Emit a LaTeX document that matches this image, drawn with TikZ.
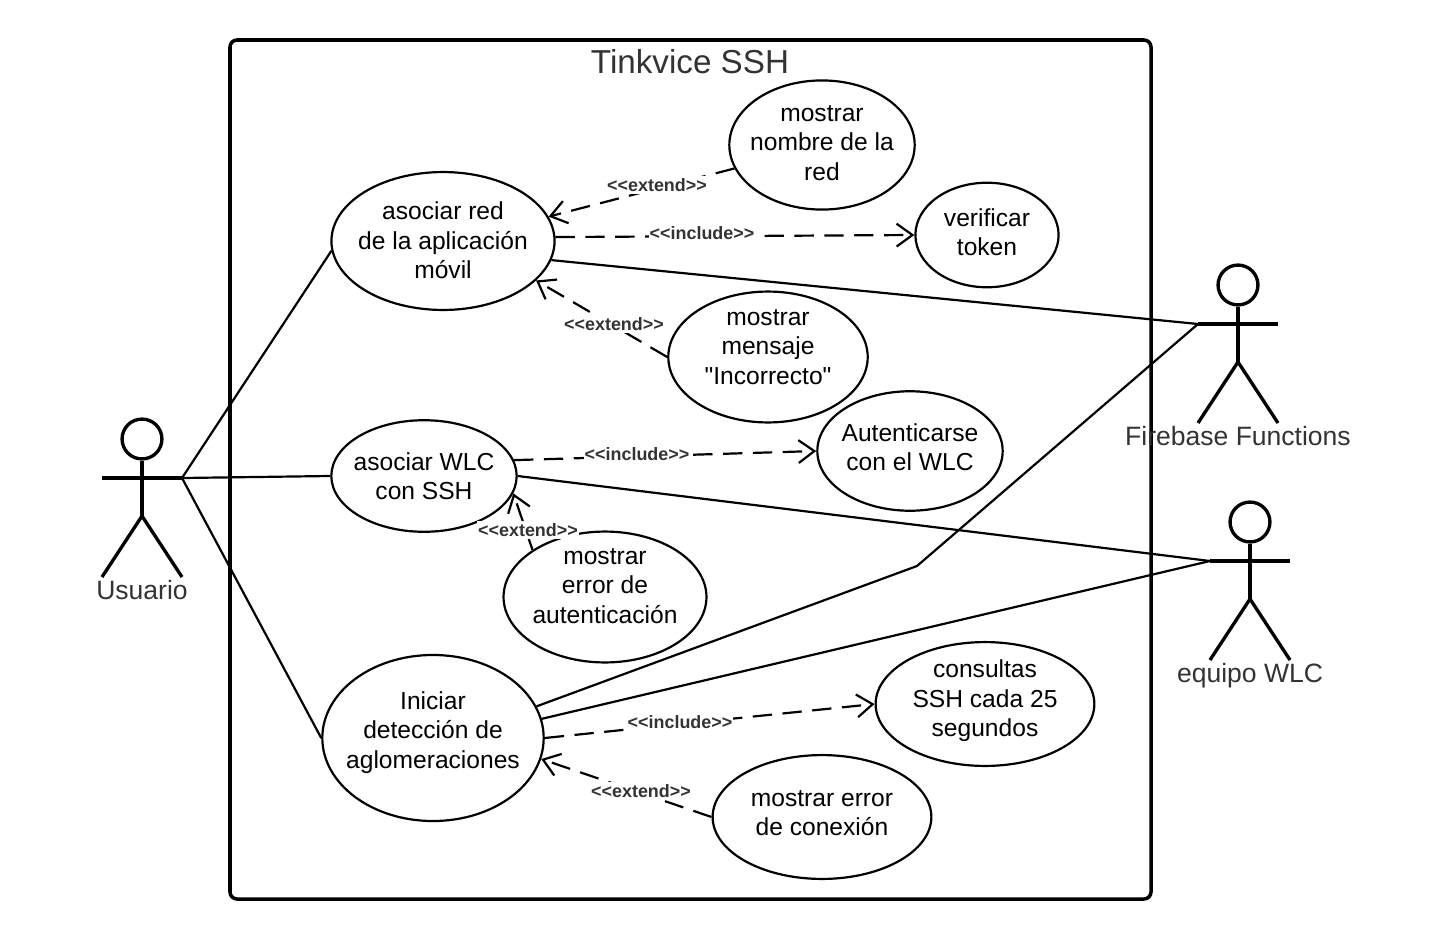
\documentclass[tikz,border=0pt]{standalone}
\usepackage{fontspec}
\setmainfont{Liberation Sans}
\newfontfamily\casefont{Liberation Sans}
\usetikzlibrary{arrows.meta,shapes.geometric}
\definecolor{labelgray}{HTML}{333333}

\tikzset{
  usecase/.style={draw,ellipse,line width=1.25pt,inner sep=-20pt,align=center,font=\casefont\fontsize{14}{16.8}\selectfont},
  assoc/.style={line width=1.25pt},
  dep/.style={line width=1.25pt,dash pattern=on 11pt off 6pt,-{Straight Barb[length=9pt,width=13pt,line width=1.25pt]}},
  deplabel/.style={fill=white,inner xsep=0.5pt,inner ysep=1.5pt,text=labelgray,font=\fontsize{10.2}{12}\selectfont\bfseries},
  stick/.style={line width=1.9pt},
  actorlabel/.style={anchor=base,text=labelgray,font=\fontsize{15.1}{18}\selectfont},
}

\newcommand{\actor}[4]{%
  \node[draw,circle,stick,minimum size=22.7pt,inner sep=0pt] (#1head) at (#2,#3) {};
  \coordinate (#1hand) at (#2+40,#3+39);
  \coordinate (#1left) at (#2-40,#3+39);
  \coordinate (#1hip) at (#2,#3+77);
  \draw[stick] (#1head) -- (#1hip);
  \draw[stick] (#1left) -- (#1hand);
  \draw[stick] (#2-40,#3+138) -- (#1hip) -- (#2+40,#3+138);
  \node[actorlabel] (#1label) at (#2,#3+160) {#4};
}

\begin{document}
\begin{tikzpicture}[x=0.02cm,y=-0.02cm]
\useasboundingbox (0,0) rectangle (1434,940);

\draw[line width=2pt,rounded corners=4pt] (230,40) rectangle (1151,899);
\node[text=labelgray,font=\fontsize{18.9}{22}\selectfont] (title) at (690,62) {Tinkvice SSH};

% actors
\actor{usuario}{142}{439}{Usuario}
\actor{firebase}{1238}{285}{Firebase Functions}
\actor{wlc}{1250}{522}{equipo WLC}
\coordinate (bend) at (917,566);

% use cases
\node[usecase,minimum width=127pt,minimum height=78.5pt] (red) at (443,241) {asociar red\\de la aplicación\\móvil\\[-15.9pt]};
\node[usecase,minimum width=105.5pt,minimum height=73.5pt] (nombre) at (822,145) {mostrar\\nombre de la\\red\\[-14.2pt]};
\node[usecase,minimum width=81.5pt,minimum height=59.5pt] (token) at (987,235) {verificar\\token\\[-13.6pt]};
\node[usecase,minimum width=113.5pt,minimum height=74.5pt] (mensaje) at (768,357) {mostrar\\mensaje\\"Incorrecto"\\[-5.1pt]};
\node[usecase,minimum width=105.5pt,minimum height=68pt] (autentica) at (910,451) {Autenticarse\\con el WLC\\[-12.5pt]};
\node[usecase,minimum width=105.5pt,minimum height=63.5pt] (asocwlc) at (424,476) {asociar WLC\\con SSH};
\node[usecase,minimum width=115.5pt,minimum height=74.5pt] (errauth) at (605,597) {mostrar\\error de\\autenticación\\[-4pt]};
\node[usecase,minimum width=126pt,minimum height=94.5pt] (iniciar) at (433,738) {Iniciar\\detección de\\aglomeraciones\\[-7.5pt]};
\node[usecase,minimum width=124.5pt,minimum height=70.5pt] (consultas) at (985,704) {consultas\\SSH cada 25\\segundos\\[-10.2pt]};
\node[usecase,minimum width=124.5pt,minimum height=70.5pt] (errcon) at (822,817) {mostrar error\\de conexión\\[-12.5pt]};

% associations
\draw[assoc] (usuariohand) -- (red.185);
\draw[assoc] (usuariohand) -- (asocwlc.west);
\draw[assoc] (usuariohand) -- (iniciar.west);
\draw[assoc] (red.-10) -- (firebaseleft);
\draw[assoc] (asocwlc.east) -- (wlcleft);
\draw[assoc] (iniciar.17) -- (bend) -- (firebaseleft);
\draw[assoc] (iniciar.10) -- (wlcleft);

% dependencies
\draw[dep] (nombre.195) -- (red.13);
\draw[dep] (red.2.6) -- (token.west);
\draw[dep] (mensaje.west) -- (red.-23);
\draw[dep] (asocwlc.10) -- (autentica.west);
\draw[dep] (errauth.147) -- (asocwlc.-11);
\draw[dep] (iniciar.east) -- (consultas.west);
\draw[dep] (errcon.west) -- (iniciar.-11);

\node[deplabel] (lblnombre) at (657,185) {<{}<extend>{}>};
\node[deplabel] (lbltoken) at (702,233) {<{}<include>{}>};
\node[deplabel] (lblmensaje) at (614,324) {<{}<extend>{}>};
\node[deplabel] (lblautentica) at (637,454) {<{}<include>{}>};
\node[deplabel] (lblerrauth) at (528,530) {<{}<extend>{}>};
\node[deplabel] (lblconsultas) at (680,722) {<{}<include>{}>};
\node[deplabel] (lblerrcon) at (641,791) {<{}<extend>{}>};
\end{tikzpicture}
\end{document}
